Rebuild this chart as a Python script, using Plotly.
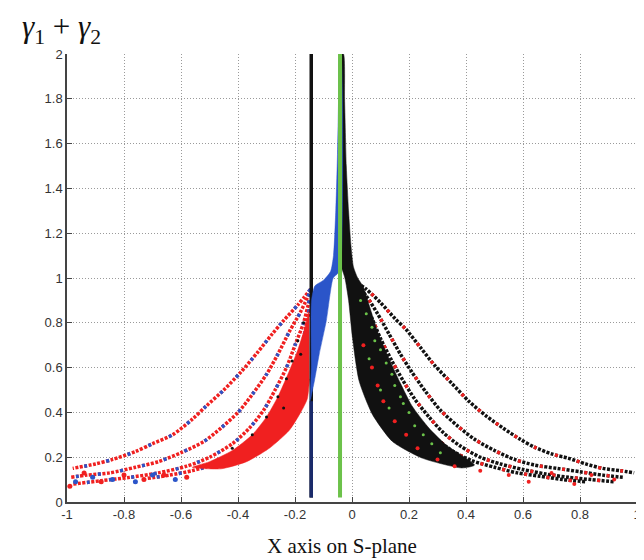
import plotly.graph_objects as go

# ---------------- data ----------------
x_ticks = [-1, -0.8, -0.6, -0.4, -0.2, 0, 0.2, 0.4, 0.6, 0.8, 1]
x_tick_labels = ["-1", "-0.8", "-0.6", "-0.4", "-0.2", "0", "0.2", "0.4", "0.6", "0.8", "1"]
y_ticks = [0, 0.2, 0.4, 0.6, 0.8, 1, 1.2, 1.4, 1.6, 1.8, 2]
y_tick_labels = ["0", "0.2", "0.4", "0.6", "0.8", "1", "1.2", "1.4", "1.6", "1.8", "2"]

# vertical lines
black_line_x = -0.143
green_line_x = -0.042
vline_y = [0.02, 2.0]

# left-side curves (red / blue dots)
left_A_x = [-0.145, -0.19, -0.24, -0.28, -0.33, -0.39, -0.45, -0.51, -0.56, -0.63, -0.70, -0.76, -0.84, -0.90, -0.98]
left_A_y = [0.95, 0.88, 0.81, 0.75, 0.67, 0.58, 0.50, 0.43, 0.37, 0.30, 0.26, 0.225, 0.19, 0.17, 0.15]
left_B_x = [-0.15, -0.18, -0.22, -0.26, -0.30, -0.35, -0.40, -0.46, -0.52, -0.60, -0.68, -0.76, -0.85, -0.93, -0.99]
left_B_y = [0.93, 0.85, 0.76, 0.66, 0.57, 0.48, 0.40, 0.33, 0.27, 0.22, 0.18, 0.155, 0.13, 0.12, 0.11]
left_C_x = [-0.15, -0.17, -0.20, -0.23, -0.27, -0.31, -0.36, -0.42, -0.50, -0.58, -0.68, -0.78, -0.88, -0.98]
left_C_y = [0.90, 0.80, 0.70, 0.60, 0.50, 0.41, 0.33, 0.26, 0.20, 0.16, 0.13, 0.11, 0.095, 0.08]
left_D_x = [-0.15, -0.165, -0.185, -0.21, -0.24, -0.28, -0.33, -0.40, -0.48, -0.56, -0.64, -0.72]
left_D_y = [0.86, 0.76, 0.66, 0.56, 0.46, 0.37, 0.29, 0.22, 0.17, 0.14, 0.12, 0.105]

# dense red band on the left
red_band_x = [-0.150, -0.165, -0.19, -0.225, -0.26, -0.30, -0.35, -0.42, -0.50, -0.56,
              -0.46, -0.37, -0.29, -0.22, -0.18, -0.157, -0.149]
red_band_y = [0.86, 0.78, 0.68, 0.57, 0.47, 0.38, 0.30, 0.23, 0.18, 0.155,
              0.148, 0.18, 0.24, 0.32, 0.40, 0.46, 0.55]

# blue wedge
blue_x = [-0.147, -0.143, -0.142, -0.13, -0.10, -0.075, -0.065, -0.057, -0.051, -0.047, -0.044,
          -0.040, -0.040, -0.050, -0.066, -0.09, -0.115, -0.132, -0.145]
blue_y = [0.45, 0.60, 0.90, 0.965, 0.99, 1.03, 1.10, 1.30, 1.55, 1.80, 2.0,
          2.0, 1.05, 1.02, 1.0, 0.81, 0.66, 0.54, 0.46]

# dense black region on the right
black_x = [-0.040, -0.030, -0.026, -0.020, -0.012, -0.004, 0.005, 0.02, 0.04, 0.06, 0.09, 0.13, 0.17,
           0.21, 0.27, 0.33, 0.43, 0.385, 0.246, 0.142, 0.072, 0.025, 0.002, -0.012, -0.025, -0.038]
black_y = [2.0, 2.0, 1.8, 1.5, 1.3, 1.15, 1.05, 1.0, 0.96, 0.88, 0.76, 0.64, 0.53,
           0.43, 0.33, 0.255, 0.165, 0.152, 0.196, 0.27, 0.39, 0.54, 0.73, 0.9, 1.0, 1.05]

# right-side curves (black with red / green dots)
right_1_x = [0.005, 0.05, 0.10, 0.15, 0.19, 0.24, 0.29, 0.35, 0.41, 0.47, 0.53, 0.59, 0.64, 0.70, 0.76, 0.82, 0.88, 0.94, 0.99]
right_1_y = [0.99, 0.95, 0.89, 0.82, 0.77, 0.69, 0.61, 0.53, 0.45, 0.385, 0.33, 0.28, 0.245, 0.215, 0.195, 0.17, 0.15, 0.14, 0.13]
right_2_x = [0.01, 0.05, 0.09, 0.13, 0.17, 0.21, 0.26, 0.31, 0.37, 0.43, 0.50, 0.57, 0.64, 0.72, 0.80, 0.88, 0.95]
right_2_y = [0.98, 0.92, 0.84, 0.75, 0.66, 0.58, 0.49, 0.41, 0.34, 0.28, 0.23, 0.19, 0.165, 0.15, 0.135, 0.12, 0.11]
right_3_x = [0.01, 0.04, 0.07, 0.10, 0.14, 0.18, 0.22, 0.27, 0.32, 0.38, 0.45, 0.52, 0.60, 0.68, 0.76, 0.84, 0.92]
right_3_y = [0.97, 0.90, 0.82, 0.73, 0.63, 0.54, 0.46, 0.38, 0.31, 0.25, 0.20, 0.17, 0.145, 0.125, 0.11, 0.10, 0.09]
right_4_x = [0.01, 0.03, 0.06, 0.09, 0.12, 0.155, 0.19, 0.24, 0.29, 0.35, 0.42, 0.50, 0.58, 0.66, 0.74, 0.82]
right_4_y = [0.96, 0.88, 0.79, 0.70, 0.61, 0.52, 0.44, 0.36, 0.29, 0.23, 0.185, 0.155, 0.13, 0.115, 0.10, 0.09]

# scattered green dots inside the black region
green_dots_x = [0.03, 0.05, 0.07, 0.08, 0.10, 0.12, 0.14, 0.15, 0.17, 0.18, 0.20, 0.22, 0.25, 0.28, 0.06, 0.10, 0.13, 0.31]
green_dots_y = [0.90, 0.84, 0.78, 0.72, 0.68, 0.62, 0.57, 0.52, 0.47, 0.44, 0.40, 0.34, 0.30, 0.26, 0.64, 0.50, 0.42, 0.22]
# scattered red dots inside the black region / bottom right
red_dots_x = [0.04, 0.07, 0.09, 0.11, 0.15, 0.19, 0.23, 0.30, 0.36, 0.45, 0.55, 0.62, 0.70, 0.78, 0.84, 0.92]
red_dots_y = [0.70, 0.60, 0.52, 0.45, 0.36, 0.30, 0.24, 0.19, 0.16, 0.14, 0.12, 0.09, 0.13, 0.08, 0.12, 0.10]
# black dots inside the red band
black_dots_x = [-0.17, -0.19, -0.21, -0.23, -0.26, -0.30, -0.35, -0.42, -0.18, -0.24]
black_dots_y = [0.80, 0.72, 0.63, 0.55, 0.47, 0.38, 0.30, 0.24, 0.66, 0.42]
# scattered blue / red dots at lower left
ll_blue_x = [-0.97, -0.91, -0.84, -0.76, -0.70, -0.62]
ll_blue_y = [0.09, 0.11, 0.10, 0.09, 0.12, 0.10]
ll_red_x = [-0.99, -0.94, -0.88, -0.80, -0.73, -0.66, -0.58]
ll_red_y = [0.07, 0.13, 0.09, 0.12, 0.10, 0.12, 0.11]

RED = "#f02020"
BLUE = "#2b55c9"
BLACK = "#111111"
GREEN = "#6cc24a"
NAVY = "#1a2a6a"

SERIF = "Liberation Serif, DejaVu Serif, serif"

fig = go.Figure()

def poly(xs, ys, color):
    fig.add_trace(go.Scatter(x=xs, y=ys, mode="lines", fill="toself", fillcolor=color,
                             line=dict(width=0.5, color=color, shape="spline", smoothing=0.6),
                             hoverinfo="skip", showlegend=False))

def dotted(xs, ys, color, dash, width=3.5):
    fig.add_trace(go.Scatter(x=xs, y=ys, mode="lines",
                             line=dict(color=color, width=width, dash=dash, shape="spline", smoothing=0.8),
                             hoverinfo="skip", showlegend=False))

def dots(xs, ys, color, size=4):
    fig.add_trace(go.Scatter(x=xs, y=ys, mode="markers", marker=dict(color=color, size=size),
                             hoverinfo="skip", showlegend=False))

# left curves
for cx, cy in [(left_A_x, left_A_y), (left_B_x, left_B_y), (left_C_x, left_C_y), (left_D_x, left_D_y)]:
    dotted(cx, cy, RED, "3px,1.5px")
    dotted(cx, cy, BLUE, "3px,19.5px")
poly(red_band_x, red_band_y, RED)
dots(black_dots_x, black_dots_y, BLACK, 3)
dots(ll_blue_x, ll_blue_y, BLUE, 5)
dots(ll_red_x, ll_red_y, RED, 5)

# right curves
for cx, cy in [(right_1_x, right_1_y), (right_2_x, right_2_y), (right_3_x, right_3_y), (right_4_x, right_4_y)]:
    dotted(cx, cy, BLACK, "3px,1.5px")
    dotted(cx, cy, RED, "3px,19.5px")
poly(black_x, black_y, BLACK)
dots(green_dots_x, green_dots_y, GREEN, 3)
dots(red_dots_x, red_dots_y, RED, 4)

# vertical lines and blue wedge
fig.add_trace(go.Scatter(x=[black_line_x, black_line_x], y=vline_y, mode="lines",
                         line=dict(color=BLACK, width=3.5), hoverinfo="skip", showlegend=False))
fig.add_trace(go.Scatter(x=[black_line_x, black_line_x], y=[vline_y[0], 0.45], mode="lines",
                         line=dict(color=NAVY, width=3.5), hoverinfo="skip", showlegend=False))
poly(blue_x, blue_y, BLUE)
fig.add_trace(go.Scatter(x=[green_line_x, green_line_x], y=vline_y, mode="lines",
                         line=dict(color=GREEN, width=4), hoverinfo="skip", showlegend=False))

axis_common = dict(
    showgrid=True, gridcolor="#9a9a9a", griddash="1px,2px", gridwidth=1,
    zeroline=False, showline=True, linecolor="#444444", linewidth=1.5,
    ticks="inside", ticklen=5, tickcolor="#444444",
    tickfont=dict(family="Liberation Sans", size=13, color="#333333"),
)
fig.update_xaxes(range=[-1, 1], tickvals=x_ticks, ticktext=x_tick_labels, **axis_common)
fig.update_yaxes(range=[0, 2], tickvals=y_ticks, ticktext=y_tick_labels, **axis_common)

fig.update_layout(
    width=644, height=560,
    margin=dict(l=59, r=11, t=46, b=66),
    paper_bgcolor="white", plot_bgcolor="white",
    showlegend=False,
    font=dict(family=SERIF),
    annotations=[
        dict(text="<i>γ</i><sub>1</sub> + <i>γ</i><sub>2</sub>", xref="paper", yref="paper",
             x=-0.082, y=1.056, xanchor="left", yanchor="middle", showarrow=False,
             font=dict(family=SERIF, size=31, color="#111111")),
        dict(text="X axis on S-plane", xref="paper", yref="paper",
             x=0.483, y=-0.098, xanchor="center", yanchor="middle", showarrow=False,
             font=dict(family=SERIF, size=21, color="#111111")),
    ],
)

fig.write_html("out.html")
